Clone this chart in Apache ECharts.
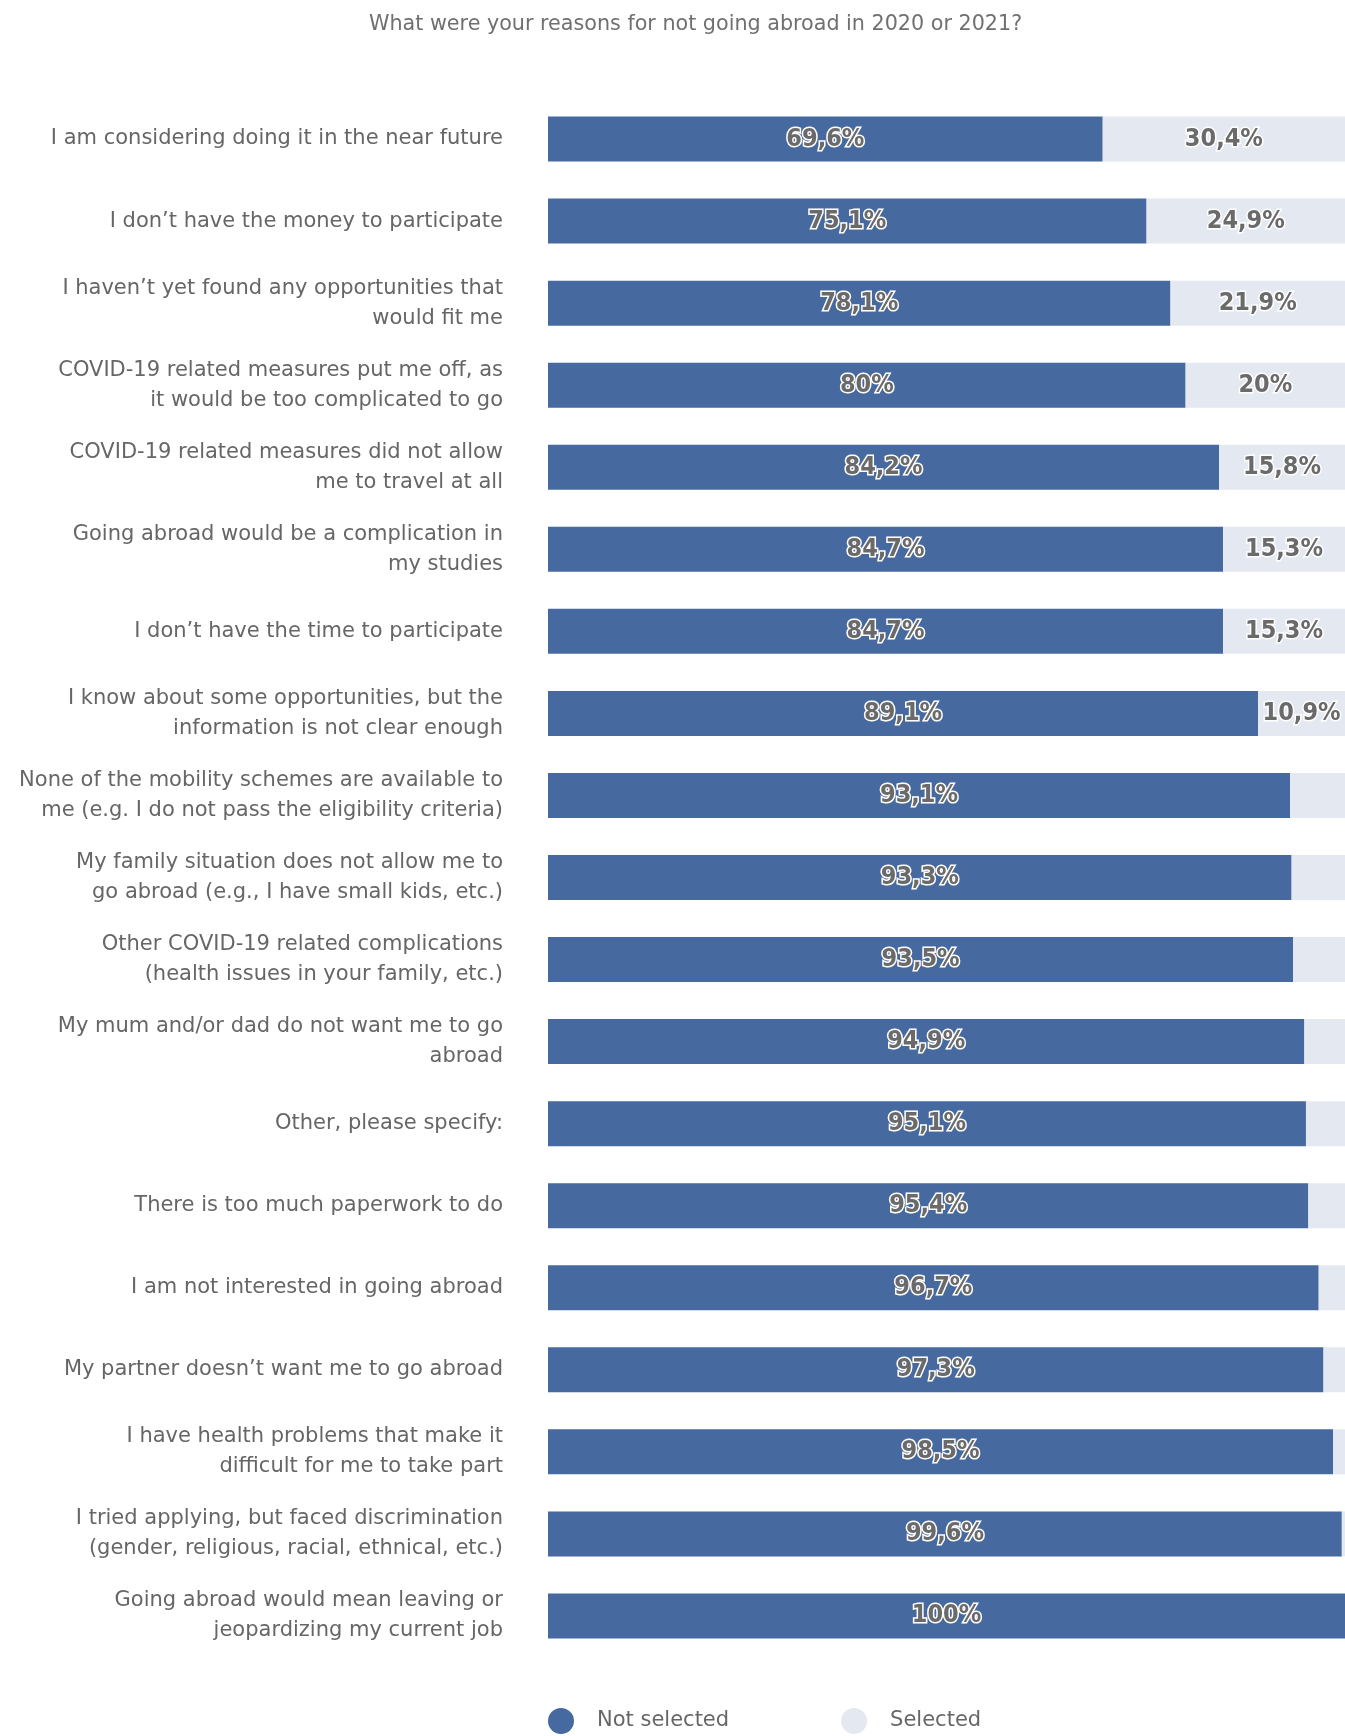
<!DOCTYPE html>
<html>
<head>
<meta charset="utf-8">
<script src="https://cdn.jsdelivr.net/npm/echarts@6/dist/echarts.min.js"></script>
<style>html,body{margin:0;padding:0;background:#fff}#c{width:1345px;height:1736px}</style>
</head>
<body>
<div id="c"></div>
<script>
const titleText = "What were your reasons for not going abroad in 2020 or 2021?";
const categories = [
  "I am considering doing it in the near future",
  "I don’t have the money to participate",
  "I haven’t yet found any opportunities that\nwould fit me",
  "COVID-19 related measures put me off, as\nit would be too complicated to go",
  "COVID-19 related measures did not allow\nme to travel at all",
  "Going abroad would be a complication in\nmy studies",
  "I don’t have the time to participate",
  "I know about some opportunities, but the\ninformation is not clear enough",
  "None of the mobility schemes are available to\nme (e.g. I do not pass the eligibility criteria)",
  "My family situation does not allow me to\ngo abroad (e.g., I have small kids, etc.)",
  "Other COVID-19 related complications\n(health issues in your family, etc.)",
  "My mum and/or dad do not want me to go\nabroad",
  "Other, please specify:",
  "There is too much paperwork to do",
  "I am not interested in going abroad",
  "My partner doesn’t want me to go abroad",
  "I have health problems that make it\ndifficult for me to take part",
  "I tried applying, but faced discrimination\n(gender, religious, racial, ethnical, etc.)",
  "Going abroad would mean leaving or\njeopardizing my current job"
];
const notSelected = [69.6, 75.1, 78.1, 80, 84.2, 84.7, 84.7, 89.1, 93.1, 93.3, 93.5, 94.9, 95.1, 95.4, 96.7, 97.3, 98.5, 99.6, 100];
const selected = [30.4, 24.9, 21.9, 20, 15.8, 15.3, 15.3, 10.9, 6.9, 6.7, 6.5, 5.1, 4.9, 4.6, 3.3, 2.7, 1.5, 0.4, 0];
const seriesNames = ["Not selected", "Selected"];

const FONT = "'DejaVu Sans', sans-serif";
const FONT_B = "'DejaVu Sans Condensed', 'DejaVu Sans', sans-serif";
const fmt = v => String(v).replace('.', ',') + '%';
const labelStyle = {
  show: true, position: 'inside', color: '#6a6a6a', fontFamily: FONT_B,
  fontWeight: 'bold', fontSize: 25, textBorderColor: '#fff', textBorderWidth: 3
};

const chart = echarts.init(document.getElementById('c'), null, {renderer: 'canvas'});
chart.setOption({
  animation: false,
  backgroundColor: '#fff',
  title: {
    text: titleText, left: 364, top: 9,
    textStyle: {color: '#707070', fontSize: 20.7, fontWeight: 'normal', fontFamily: FONT}
  },
  legend: {
    data: seriesNames, left: 548, top: 1708, padding: 0, icon: 'circle',
    itemWidth: 26, itemHeight: 26, itemGap: 112,
    textStyle: {color: '#666', fontSize: 21, fontFamily: FONT, padding: [0, 0, 0, 18]}
  },
  grid: {left: 548, top: 98, width: 802, height: 1559, containLabel: false},
  xAxis: {type: 'value', min: 0, max: 100, show: false},
  yAxis: {
    type: 'category', data: categories, inverse: true,
    axisLine: {show: false}, axisTick: {show: false},
    axisLabel: {color: '#666', fontSize: 21, lineHeight: 30, margin: 45, align: 'right', fontFamily: FONT, padding: [5, 0, 0, 0]}
  },
  series: [
    {
      name: seriesNames[0], type: 'bar', stack: 't', data: notSelected, barWidth: 45,
      itemStyle: {color: '#46699F'},
      label: Object.assign({}, labelStyle, {formatter: p => fmt(p.value)})
    },
    {
      name: seriesNames[1], type: 'bar', stack: 't', data: selected, barWidth: 45,
      itemStyle: {color: '#E4E8F1'},
      label: Object.assign({}, labelStyle, {formatter: p => p.value >= 10 ? fmt(p.value) : ''})
    }
  ]
});
</script>
</body>
</html>
